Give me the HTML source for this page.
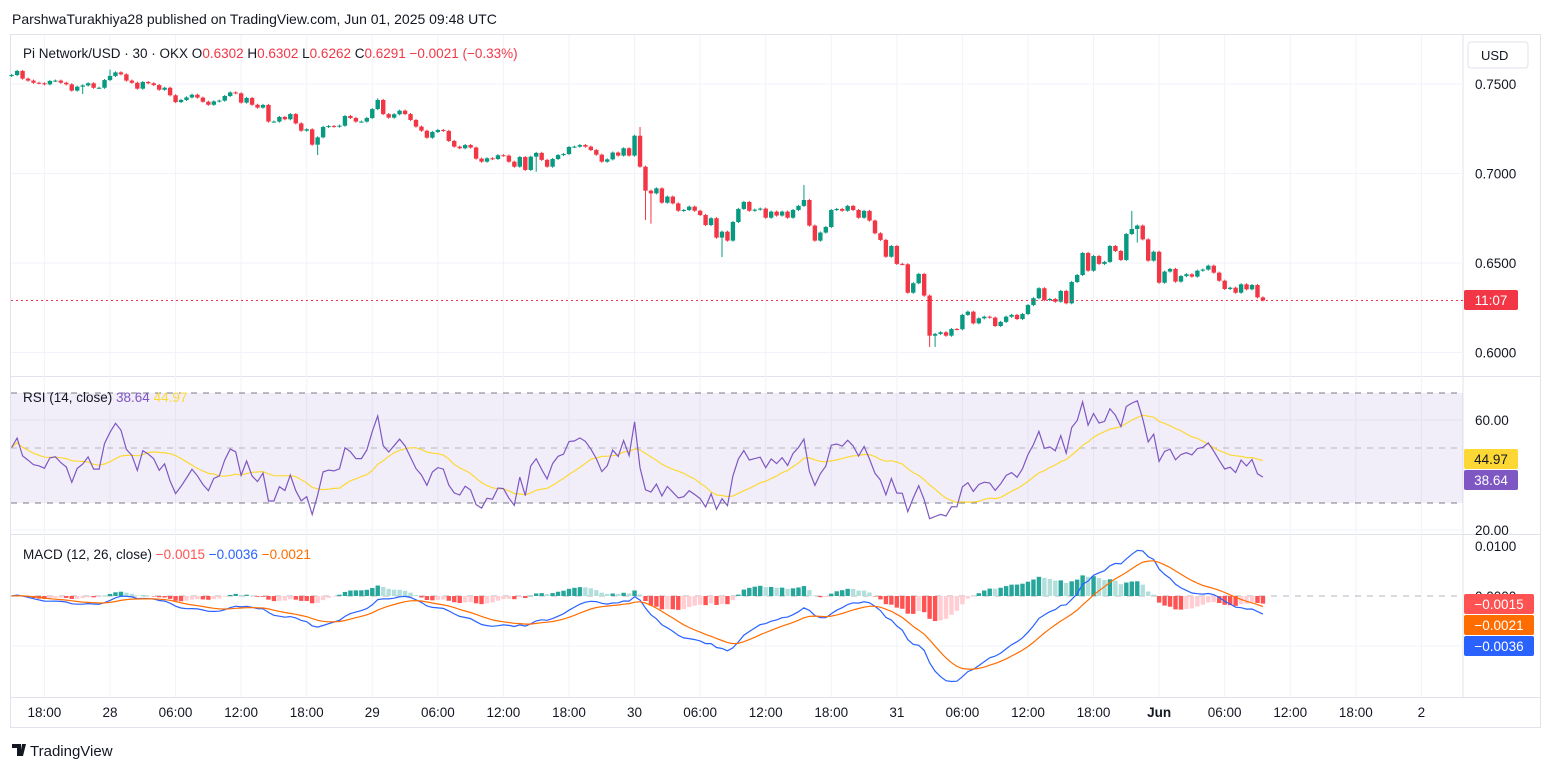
<!DOCTYPE html>
<html><head><meta charset="utf-8">
<style>
html,body{margin:0;padding:0;background:#fff;width:1553px;height:772px;overflow:hidden}
svg{display:block;font-family:"Liberation Sans",sans-serif}
</style></head>
<body>
<svg id="chart" width="1553" height="772" viewBox="0 0 1553 772" xmlns="http://www.w3.org/2000/svg">
<defs>
<clipPath id="rsiClip"><rect x="11" y="378" width="1452" height="155"/></clipPath>
<clipPath id="macdClip"><rect x="11" y="536" width="1452" height="160"/></clipPath>
</defs>
<rect x="0" y="0" width="1553" height="772" fill="#fff"/>
<text x="12" y="24" font-size="14" fill="#131722">ParshwaTurakhiya28 published on TradingView.com, Jun 01, 2025 09:48 UTC</text>
<rect x="10.5" y="34.5" width="1530" height="693" fill="none" stroke="#e0e3eb"/>
<line x1="1463" y1="35" x2="1463" y2="697" stroke="#e0e3eb"/>
<line x1="11" y1="376.5" x2="1540" y2="376.5" stroke="#e0e3eb"/>
<line x1="11" y1="534.5" x2="1540" y2="534.5" stroke="#e0e3eb"/>
<line x1="11" y1="697.5" x2="1540" y2="697.5" stroke="#e0e3eb"/>
<g id="grid"></g>
<rect x="11" y="393" width="1452" height="110" fill="rgba(126,87,194,0.1)"/>
<line x1="11" y1="393" x2="1463" y2="393" stroke="#787b86" stroke-dasharray="6,6" stroke-width="1"/>
<line x1="11" y1="448" x2="1463" y2="448" stroke="#b2b5be" stroke-dasharray="6,6" stroke-width="1"/>
<line x1="11" y1="503" x2="1463" y2="503" stroke="#787b86" stroke-dasharray="6,6" stroke-width="1"/>
<line x1="11" y1="596" x2="1463" y2="596" stroke="#b2b5be" stroke-dasharray="6,6" stroke-width="1"/>
<g id="marks"></g>
<line x1="11" y1="300.5" x2="1463" y2="300.5" stroke="#F23645" stroke-dasharray="2,3"/>
<g id="axes"></g>
<text x="23" y="58" font-size="13.5" fill="#131722">Pi Network/USD · 30 · OKX  <tspan>O</tspan><tspan fill="#F23645">0.6302</tspan> H<tspan fill="#F23645">0.6302</tspan> L<tspan fill="#F23645">0.6262</tspan> C<tspan fill="#F23645">0.6291</tspan> <tspan fill="#F23645">−0.0021 (−0.33%)</tspan></text>
<text x="23" y="402" font-size="13.5" fill="#131722">RSI (14, close) <tspan fill="#7E57C2">38.64</tspan> <tspan fill="#FDD835">44.97</tspan></text>
<text x="23" y="559" font-size="13.5" fill="#131722">MACD (12, 26, close) <tspan fill="#FF5252">−0.0015</tspan> <tspan fill="#2962FF">−0.0036</tspan> <tspan fill="#FF6D00">−0.0021</tspan></text>
<rect x="1468" y="42" width="60" height="26" rx="3" fill="#fff" stroke="#e0e3eb"/>
<text x="1481" y="60" font-size="13" fill="#131722">USD</text>
<g>
<path d="M12 744h9v12h-4v-8h-5zM22 744h4l-3 12h-3z" fill="#131722"/>
<text x="30" y="756" font-size="15" fill="#131722">TradingView</text>
</g>
</svg>
<script>
const closes = [
0.7550,0.7573,0.7530,0.7519,0.7507,0.7504,0.7498,0.7517,0.7519,0.7507,0.7498,0.7463,0.7485,0.7492,0.7504,0.7479,0.7479,0.7522,0.7545,0.7565,
0.7554,0.7519,0.7507,0.7474,0.7511,0.7504,0.7494,0.7468,0.7479,0.7437,0.7399,0.7411,0.7425,0.7440,0.7424,0.7401,0.7384,0.7403,0.7407,0.7433,
0.7453,0.7448,0.7396,0.7422,0.7384,0.7368,0.7383,0.7290,0.7290,0.7316,0.7303,0.7332,0.7280,0.7239,0.7247,0.7161,0.7202,0.7260,0.7265,0.7262,
0.7267,0.7321,0.7310,0.7290,0.7290,0.7310,0.7360,0.7411,0.7332,0.7312,0.7331,0.7351,0.7332,0.7299,0.7262,0.7239,0.7200,0.7232,0.7243,0.7238,
0.7182,0.7150,0.7141,0.7159,0.7145,0.7083,0.7066,0.7085,0.7081,0.7102,0.7100,0.7066,0.7038,0.7092,0.7020,0.7094,0.7115,0.7076,0.7038,0.7081,
0.7103,0.7109,0.7148,0.7150,0.7159,0.7150,0.7131,0.7105,0.7066,0.7079,0.7117,0.7100,0.7141,0.7100,0.7211,0.7038,0.6904,0.6889,0.6917,
0.6837,0.6871,0.6833,0.6792,0.6796,0.6815,0.6792,0.6768,0.6712,0.6750,0.6642,0.6675,0.6625,0.6729,0.6802,0.6841,0.6792,0.6798,0.6804,0.6753,
0.6787,0.6765,0.6787,0.6753,0.6796,0.6819,0.6852,0.6709,0.6625,0.6670,0.6701,0.6796,0.6802,0.6792,0.6819,0.6796,0.6753,0.6791,0.6737,0.6666,
0.6629,0.6535,0.6595,0.6495,0.6493,0.6334,0.6387,0.6439,0.6318,0.6094,0.6104,0.6113,0.6094,0.6131,0.6130,0.6210,0.6228,
0.6163,0.6191,0.6200,0.6195,0.6148,0.6171,0.6200,0.6210,0.6187,0.6215,0.6265,0.6303,0.6359,0.6293,0.6299,0.6284,0.6344,0.6275,0.6394,0.6433,
0.6556,0.6457,0.6539,0.6495,0.6506,0.6595,0.6567,0.6517,0.6662,0.6690,0.6709,0.6632,0.6513,0.6563,0.6390,0.6452,0.6467,0.6396,0.6427,0.6437,
0.6424,0.6457,0.6463,0.6485,0.6446,0.6401,0.6355,0.6362,0.6334,0.6381,0.6353,0.6377,0.6308,0.6291];
const firstOpen = 0.7545;
const wickHighIdx = [115,145,205,67,18];
const wickHighVal = [0.7260,0.6936,0.6791,0.7420,0.7580];
const wickLowIdx = [13,56,116,117,130,168,169,206,96];
const wickLowVal = [0.7444,0.7103,0.6740,0.6720,0.6533,0.6031,0.6031,0.6614,0.7010];
const priceTicks = [0.75,0.70,0.65,0.60];
const rsiTicks = [60,20];
const macdTicks = [0.01,0.0];
const timeLabels = ["18:00","28","06:00","12:00","18:00","29","06:00","12:00","18:00","30","06:00","12:00","18:00","31","06:00","12:00","18:00","Jun","06:00","12:00","18:00","2"];
const timeLabelHours = [-6,0,6,12,18,24,30,36,42,48,54,60,66,72,78,84,90,96,102,108,114,120];
const lastCandleHour = 105.5;

const NS="http://www.w3.org/2000/svg";
const marks=document.getElementById('marks'), grid=document.getElementById('grid'), axes=document.getElementById('axes');
function mk(tag,attrs,parent){const e=document.createElementNS(NS,tag);for(const k in attrs)e.setAttribute(k,attrs[k]);parent.appendChild(e);return e;}
const xH = h => 110 + h*65.57/6;
const N = closes.length;
const xI = i => xH(lastCandleHour - (N-1-i)*0.5);
const yP = p => 84 + (0.75-p)*1790;
const yR = v => 420 + (60-v)*2.75;
const yM = v => 596 - v*5000;

timeLabels.forEach((t,k)=>{
  const x=xH(timeLabelHours[k]);
  const g=mk('line',{x1:x,y1:35,x2:x,y2:697,stroke:'#f0f3fa'},grid);
  
  
  const tx=mk('text',{x:x,y:717,'font-size':13.5,'text-anchor':'middle',fill:'#131722','font-weight':(t==='Jun')?'bold':'normal'},axes);
  tx.textContent=t;
  
  
});
priceTicks.forEach(p=>{
  const y=yP(p);
  const g=mk('line',{x1:11,y1:y,x2:1463,y2:y,stroke:'#f0f3fa'},grid);
  
  
  const t=mk('text',{x:1475,y:y+5,'font-size':13.5,fill:'#131722'},axes);
  t.textContent=p.toFixed(4);
  
  
});
rsiTicks.forEach(v=>{
  const y=yR(v);
  const g=mk('line',{x1:11,y1:y,x2:1463,y2:y,stroke:'#f0f3fa'},grid);
  
  
  const t=mk('text',{x:1475,y:y+5,'font-size':13.5,fill:'#131722'},axes);
  t.textContent=v.toFixed(2);
  
  
});
macdTicks.forEach(v=>{
  const y=yM(v);
  const t=mk('text',{x:1475,y:y+5,'font-size':13.5,fill:'#131722'},axes);
  t.textContent=v.toFixed(4);
  
  
});
mk('line',{x1:11,y1:yM(-0.01),x2:1463,y2:yM(-0.01),stroke:'#f0f3fa'},grid);

const cg=mk('g',{},marks);
for(let i=0;i<N;i++){
  const o = i===0?firstOpen:closes[i-1], c=closes[i];
  let hi=Math.max(o,c)+0.0006, lo=Math.min(o,c)-0.0006;
  const a=wickHighIdx.indexOf(i); if(a>=0) hi=wickHighVal[a];
  const b=wickLowIdx.indexOf(i); if(b>=0) lo=wickLowVal[b];
  const col = c>=o ? '#089981' : '#F23645';
  const x=xI(i);
  const w=mk('line',{x1:x,y1:yP(hi),x2:x,y2:yP(lo),stroke:col,'stroke-width':1},cg);
  
  
  const yt=yP(Math.max(o,c)), yb=yP(Math.min(o,c));
  const r=mk('rect',{x:x-2.2,y:yt,width:4.4,height:Math.max(1,yb-yt),fill:col},cg);
  
  
}

// RSI (Wilder), seeded neutral
const rsi=[]; let ag=0.0012, al=0.0012;
rsi[0]=50;
for(let i=1;i<N;i++){
  const d=closes[i]-closes[i-1], g=Math.max(d,0), l=Math.max(-d,0);
  ag=(ag*13+g)/14; al=(al*13+l)/14;
  rsi[i]= al===0?100:100-100/(1+ag/al);
}
const rsiSma=[];
for(let i=0;i<N;i++){const s=Math.max(0,i-13);let t=0;for(let j=s;j<=i;j++)t+=rsi[j];rsiSma[i]=t/(i-s+1);}
const rg=mk('g',{'clip-path':'url(#rsiClip)'},marks);
const sl=mk('polyline',{points:rsiSma.map((v,i)=>xI(i).toFixed(1)+','+yR(v).toFixed(1)).join(' '),fill:'none',stroke:'#FDD835','stroke-width':1.2},rg);


const rl=mk('polyline',{points:rsi.map((v,i)=>xI(i).toFixed(1)+','+yR(v).toFixed(1)).join(' '),fill:'none',stroke:'#7E57C2','stroke-width':1.2},rg);



// MACD
const macd=[],sig=[],hist=[]; let e12=closes[0],e26=closes[0],s9=0;
for(let i=0;i<N;i++){
  e12=e12+(closes[i]-e12)*2/13; e26=e26+(closes[i]-e26)*2/27;
  macd[i]=e12-e26; s9=s9+(macd[i]-s9)*2/10; sig[i]=s9; hist[i]=macd[i]-s9;
}
const mg=mk('g',{'clip-path':'url(#macdClip)'},marks);
for(let i=0;i<N;i++){
  const h=hist[i], prev=i>0?hist[i-1]:0;
  let col;
  if(h>=0) col = h>=prev ? '#26A69A' : '#B2DFDB';
  else col = h<=prev ? '#FF5252' : '#FFCDD2';
  const y0=yM(0), y1=yM(h);
  const r=mk('rect',{x:xI(i)-2.2,y:Math.min(y0,y1),width:4.4,height:Math.max(0.5,Math.abs(y1-y0)),fill:col},mg);
  
  
}
const ml=mk('polyline',{points:macd.map((v,i)=>xI(i).toFixed(1)+','+yM(v).toFixed(1)).join(' '),fill:'none',stroke:'#2962FF','stroke-width':1.2},mg);


const gl=mk('polyline',{points:sig.map((v,i)=>xI(i).toFixed(1)+','+yM(v).toFixed(1)).join(' '),fill:'none',stroke:'#FF6D00','stroke-width':1.2},mg);



function tag(name,y,bg,fg,txt,w){
  const r=mk('rect',{x:1464,y:y-10,width:w,height:20,rx:2,fill:bg},axes);
  
  
  const t=mk('text',{x:1464+w/2,y:y+5,'font-size':13.5,'text-anchor':'middle',fill:fg},axes);
  t.textContent=txt;
}
tag('price-countdown-tag',300,'#F23645','#fff','11:07',54);
tag('rsi-sma-tag',459,'#FDD835','#131722','44.97',54);
tag('rsi-value-tag',480,'#7E57C2','#fff','38.64',54);
tag('macd-hist-tag',604,'#FF5252','#fff','−0.0015',70);
tag('macd-signal-tag',625,'#FF6D00','#fff','−0.0021',70);
tag('macd-line-tag',646,'#2962FF','#fff','−0.0036',70);
</script>
</body></html>
